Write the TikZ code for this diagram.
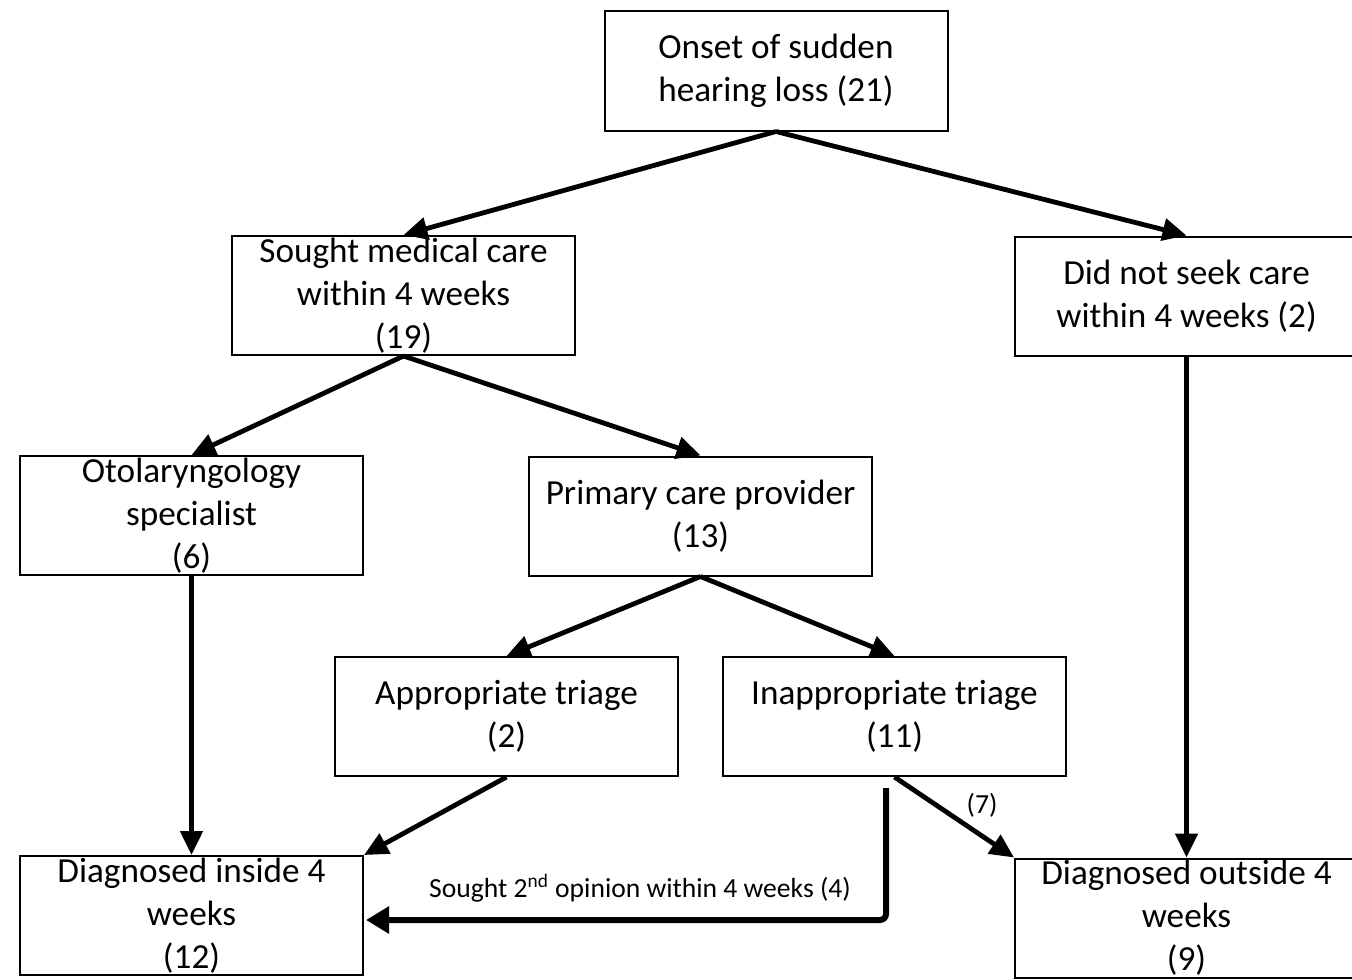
\documentclass[tikz,border=0pt]{standalone}
\usepackage{fontspec}
\setmainfont{Carlito}
\usetikzlibrary{arrows.meta,calc}

\tikzset{
  stagebox/.style={draw, line width=1pt, minimum width=171.5pt, minimum height=59.5pt,
    inner xsep=2pt, inner ysep=-3pt, align=center, font=\fontsize{17.6}{21.5}\selectfont},
  flow/.style={line width=2.4pt, -{Triangle[length=12pt,width=11pt]}},
  secondflow/.style={line width=3pt, rounded corners=3pt, -{Triangle[length=11.5pt,width=13pt]}},
  smalllbl/.style={font=\fontsize{13.8}{16}\selectfont, inner sep=1pt}
}

\begin{document}
\begin{tikzpicture}[x=0.5pt,y=0.5pt,yscale=-1,xscale=1]
		\useasboundingbox (0,0) rectangle (1352,979); %same frame as the original figure
		
		%Shape: Rectangle [onset]
		\node[stagebox] (onset) at (776,71) {Onset of sudden\\hearing loss (21)};
		%Shape: Rectangle [sought]
		\node[stagebox] (sought) at (403.5,295.5) {Sought medical care\\within 4 weeks\\(19)};
		%Shape: Rectangle [noseek]
		\node[stagebox] (noseek) at (1186.5,296) {Did not seek care\\within 4 weeks (2)};
		%Shape: Rectangle [oto]
		\node[stagebox] (oto) at (191.5,515.5) {Otolaryngology\\specialist\\(6)};
		%Shape: Rectangle [primary]
		\node[stagebox] (primary) at (700.5,516) {Primary care provider\\(13)};
		%Shape: Rectangle [approp]
		\node[stagebox] (approp) at (506.5,716.5) {Appropriate triage\\(2)};
		%Shape: Rectangle [inapprop]
		\node[stagebox] (inapprop) at (894.5,716.5) {Inappropriate triage\\(11)};
		%Shape: Rectangle [diagin]
		\node[stagebox] (diagin) at (191.5,915.5) {Diagnosed inside 4\\weeks\\(12)};
		%Shape: Rectangle [diagout]
		\node[stagebox] (diagout) at (1186.5,918) {Diagnosed outside 4\\weeks\\(9)};
		
		%Straight Lines
		\draw[flow] (onset.south) -- (sought.north);
		\draw[flow] (onset.south) -- (noseek.north);
		\draw[flow] (sought.south) -- (oto.north);
		\draw[flow] (sought.south) -- (primary.north);
		\draw[flow] (noseek.south) -- (diagout.north);
		\draw[flow] (oto.south) -- (diagin.north);
		\draw[flow] (primary.south) -- (approp.north);
		\draw[flow] (primary.south) -- (inapprop.north);
		\draw[flow] (approp.south) -- (diagin.north east);
		\draw[flow] (inapprop.south) -- (diagout.north west)
			node[smalllbl, midway, above right, xshift=4pt, yshift=-2pt] (sevenlbl) {(7)};
		
		%Elbow: second opinion
		\coordinate (secondstart) at (886,788);
		\draw[secondflow] (secondstart) |- ($(diagin.east)+(2,4.5)$);
		
		% Text Node
		\node[smalllbl] (secondlbl) at (640,888) {Sought 2\textsuperscript{nd} opinion within 4 weeks (4)};
		
\end{tikzpicture}
\end{document}
